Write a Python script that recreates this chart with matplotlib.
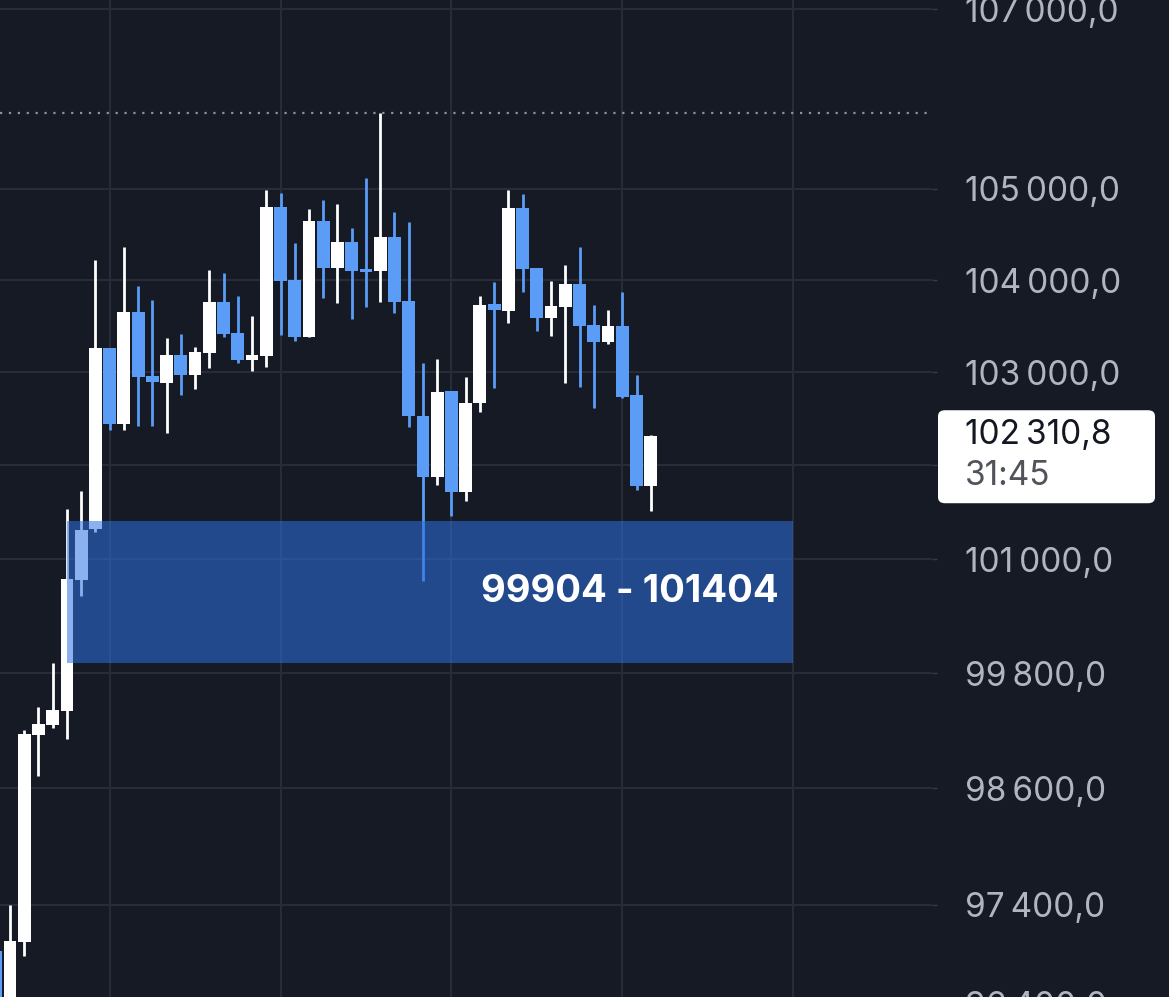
import numpy as np
import matplotlib
matplotlib.use("Agg")
import matplotlib.pyplot as plt
from matplotlib.patches import Rectangle, FancyBboxPatch
from matplotlib.ticker import FixedLocator, FixedFormatter, NullLocator

plt.rcParams['font.family'] = ['Inter', 'DejaVu Sans']

# свечи слева направо, первая видна только краем
opens = [96931, 96260, 97023, 99154, 99258, 99404, 100783, 101322, 103266, 102437,
         103656, 102964, 102888, 103190, 102974, 103212, 103765, 103428, 103136, 103179,
         104802, 104004, 103385, 104648, 104135, 104418, 104124, 104102, 104473, 103776,
         102533, 101870, 102802, 101712, 102673, 103743, 103667, 104791, 104135, 103591,
         103711, 103960, 103515, 103331, 103504, 102749, 101775]
highs = [96931, 97400, 99206, 99445, 99904, 101533, 101722, 104222, 103266, 104364,
         103939, 103787, 103374, 103417, 103277, 104113, 104080, 103830, 103613, 104989,
         104956, 104407, 104780, 104879, 104835, 104571, 105121, 105841, 104747, 104637,
         103104, 103147, 102802, 102953, 103830, 103982, 104989, 104945, 104135, 103993,
         104167, 104364, 103733, 103678, 103874, 102974, 102320]
lows = [96150, 96200, 96880, 98728, 99227, 99112, 100614, 101291, 102373, 102383,
        102426, 102416, 102341, 102749, 102824, 103050, 103385, 103104, 103017, 103060,
        103407, 103342, 103385, 103809, 103754, 103580, 103711, 103765, 103646, 102405,
        100772, 101786, 101459, 101617, 102566, 102835, 103537, 103874, 103450, 103396,
        102888, 102845, 102609, 103309, 102727, 101733, 101511]
closes = [96250, 97033, 99164, 99268, 99414, 100793, 101312, 103266, 102437, 103656,
          102953, 102899, 103190, 102974, 103222, 103765, 103417, 103136, 103190, 104802,
          103993, 103385, 104648, 104135, 104418, 104102, 104091, 104473, 103765, 102523,
          101870, 102792, 101712, 102673, 103733, 103678, 104791, 104124, 103591, 103722,
          103960, 103504, 103331, 103504, 102738, 101775, 102310.8]

price_ticks = [97400, 98600, 99800, 101000, 102000, 103000, 104000, 105000, 107000]
hidden_ticks = [102000]  # под плашкой текущей цены
edge_tick = 96400        # подпись у нижнего края, видна наполовину
time_grid = [7, 19, 31, 43, 55]

zone_low = 99904
zone_high = 101404
zone_start, zone_end = 4, 55
countdown = "31:45"

BG = '#161a25'
UP = '#ffffff'
DOWN = '#5b9cf6'
GRID = '#292d39'
TXT = '#b2b5be'


def fmt_price(v):
    s = f"{v:,.1f}"
    return s.replace(',', '\u2009').replace('.', ',')


fig = plt.figure(figsize=(11.69, 9.97), dpi=100, facecolor=BG)
ax = fig.add_axes([0, 0, 932 / 1169, 1])
ax.set_facecolor(BG)

xs = np.arange(len(opens)) - 1
o = np.array(opens, dtype=float)
c = np.array(closes, dtype=float)
colors = [UP if cc >= oo else DOWN for oo, cc in zip(o, c)]

ax.vlines(xs, lows, highs, colors=colors, linewidth=2.0, zorder=2)
ax.bar(xs, np.abs(c - o), bottom=np.minimum(o, c), width=0.9, color=colors,
       linewidth=0, zorder=3)

# зона спроса
ax.add_patch(Rectangle((zone_start, zone_low), zone_end - zone_start, zone_high - zone_low,
                       facecolor='#2c71e0', alpha=0.55, linewidth=0, zorder=4))
ax.text(zone_end - 1.0, np.sqrt(zone_low * zone_high), f"{zone_low} - {zone_high}",
        ha='right', va='center', color='white', fontsize=27.5, fontweight='bold', zorder=5)

# максимум диапазона
ax.axhline(max(highs), color='#8f929b', lw=1.6, linestyle=(0, (1, 3)), zorder=1)

ax.set_yscale('log')
ax.set_ylim(96464, 107103)
ax.set_xlim(-0.70, 64.75)

ax.yaxis.set_major_locator(FixedLocator(price_ticks))
ax.yaxis.set_major_formatter(FixedFormatter(
    ['' if t in hidden_ticks else fmt_price(t) for t in price_ticks]))
ax.yaxis.set_minor_locator(NullLocator())
ax.yaxis.tick_right()
ax.tick_params(axis='y', length=3.6, width=1, color='#363a45', pad=20,
               labelsize=24, labelcolor=TXT)
ax.set_xticks(time_grid)
ax.set_xticklabels([])
ax.tick_params(axis='x', length=0)
ax.grid(True, color=GRID, lw=1.4, zorder=0)
ax.set_axisbelow(True)
for s in ax.spines.values():
    s.set_visible(False)

ax.text(965 / 932, edge_tick, fmt_price(edge_tick), transform=ax.get_yaxis_transform(),
        ha='left', va='center_baseline', color=TXT, fontsize=24, clip_on=False)

# плашка текущей цены
yc = ax.transData.transform((0, closes[-1]))[1]
W, H = 1169, 997
fig.add_artist(FancyBboxPatch((938 / W, (yc - 67) / H), 217 / W, 93 / H,
                              boxstyle="round,pad=0,rounding_size=0.006",
                              transform=fig.transFigure, facecolor='white',
                              edgecolor='none', zorder=6))
fig.text(965 / W, (yc + 1) / H, fmt_price(closes[-1]), ha='left', va='center',
         color='#131722', fontsize=24, zorder=7)
fig.text(965 / W, (yc - 40) / H, countdown, ha='left', va='center',
         color='#50535c', fontsize=24, zorder=7)

fig.savefig('out.png', dpi=100, facecolor=BG)
